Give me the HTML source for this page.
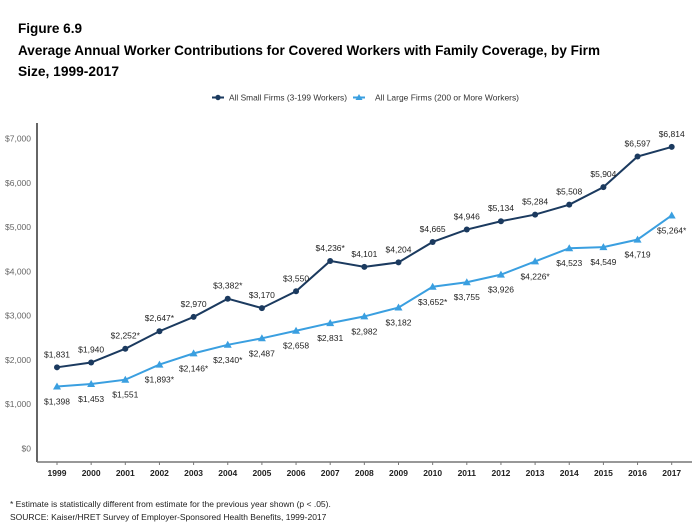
<!DOCTYPE html>
<html><head><meta charset="utf-8"><style>
body{margin:0;background:#fff;}
svg{display:block;font-family:"Liberation Sans",sans-serif;}
</style></head><body>
<svg id="s" width="698" height="525" xmlns="http://www.w3.org/2000/svg">
<text x="18" y="33" font-size="14" font-weight="bold" fill="#000" textLength="64" lengthAdjust="spacingAndGlyphs">Figure 6.9</text>
<text x="18" y="55" font-size="14" font-weight="bold" fill="#000" textLength="582" lengthAdjust="spacingAndGlyphs">Average Annual Worker Contributions for Covered Workers with Family Coverage, by Firm</text>
<text x="18" y="76" font-size="14" font-weight="bold" fill="#000" textLength="101" lengthAdjust="spacingAndGlyphs">Size, 1999-2017</text>
<line x1="212" y1="97.5" x2="224" y2="97.5" stroke="#1b3a5f" stroke-width="2"/><circle cx="218" cy="97.5" r="2.7" fill="#1b3a5f"/>
<text x="229" y="100.5" font-size="8.5" fill="#333" textLength="118" lengthAdjust="spacingAndGlyphs">All Small Firms (3-199 Workers)</text>
<line x1="353" y1="97.5" x2="365" y2="97.5" stroke="#3a9fe0" stroke-width="2"/><polygon points="359,94 362.5,100 355.5,100" fill="#3a9fe0"/>
<text x="375" y="100.5" font-size="8.5" fill="#333" textLength="144" lengthAdjust="spacingAndGlyphs">All Large Firms (200 or More Workers)</text>
<line x1="37" y1="123" x2="37" y2="462" stroke="#000" stroke-width="1.2"/>
<line x1="37" y1="462" x2="692" y2="462" stroke="#777" stroke-width="1.5"/>
<g id="g"></g>
<text x="10" y="507" font-size="8.5" fill="#222">* Estimate is statistically different from estimate for the previous year shown (p &lt; .05).</text>
<text x="10" y="520" font-size="8.5" fill="#222">SOURCE: Kaiser/HRET Survey of Employer-Sponsored Health Benefits, 1999-2017</text>
</svg>
<script>
var S=[1831,1940,2252,2647,2970,3382,3170,3550,4236,4101,4204,4665,4946,5134,5284,5508,5904,6597,6814];
var L=[1398,1453,1551,1893,2146,2340,2487,2658,2831,2982,3182,3652,3755,3926,4226,4523,4549,4719,5264];
var sS=[2,3,5,8],sL=[3,4,5,11,14,18];
function X(i){return 57+i*34.15}function Y(v){return 448.3-v*0.04423}
function f(v){return '$'+v.toLocaleString('en-US')}
var h='';
for(var k=0;k<=7;k++){h+='<text x="31" y="'+(Y(k*1000)+3)+'" font-size="8.5" fill="#666" text-anchor="end">'+f(k*1000)+'</text>';}
for(var i=0;i<19;i++){h+='<line x1="'+X(i)+'" y1="462" x2="'+X(i)+'" y2="465" stroke="#777"/><text x="'+X(i)+'" y="476" font-size="8.5" font-weight="bold" fill="#222" text-anchor="middle">'+(1999+i)+'</text>';}
var p1=S.map(function(v,i){return X(i)+','+Y(v)}).join(' ');
var p2=L.map(function(v,i){return X(i)+','+Y(v)}).join(' ');
h+='<polyline points="'+p1+'" fill="none" stroke="#1b3a5f" stroke-width="2"/>';
h+='<polyline points="'+p2+'" fill="none" stroke="#3a9fe0" stroke-width="2"/>';
for(var i=0;i<19;i++){var x=X(i),y=Y(S[i]);h+='<circle cx="'+x+'" cy="'+y+'" r="3" fill="#1b3a5f"/>';
h+='<text x="'+x+'" y="'+(y-10)+'" font-size="8.5" fill="#222" text-anchor="middle">'+f(S[i])+(sS.indexOf(i)>=0?'*':'')+'</text>';
y=Y(L[i]);h+='<polygon points="'+x+','+(y-4)+' '+(x+4)+','+(y+3)+' '+(x-4)+','+(y+3)+'" fill="#3a9fe0"/>';
h+='<text x="'+x+'" y="'+(y+18)+'" font-size="8.5" fill="#222" text-anchor="middle">'+f(L[i])+(sL.indexOf(i)>=0?'*':'')+'</text>';}
document.getElementById('g').innerHTML=h;
</script>
</body></html>
